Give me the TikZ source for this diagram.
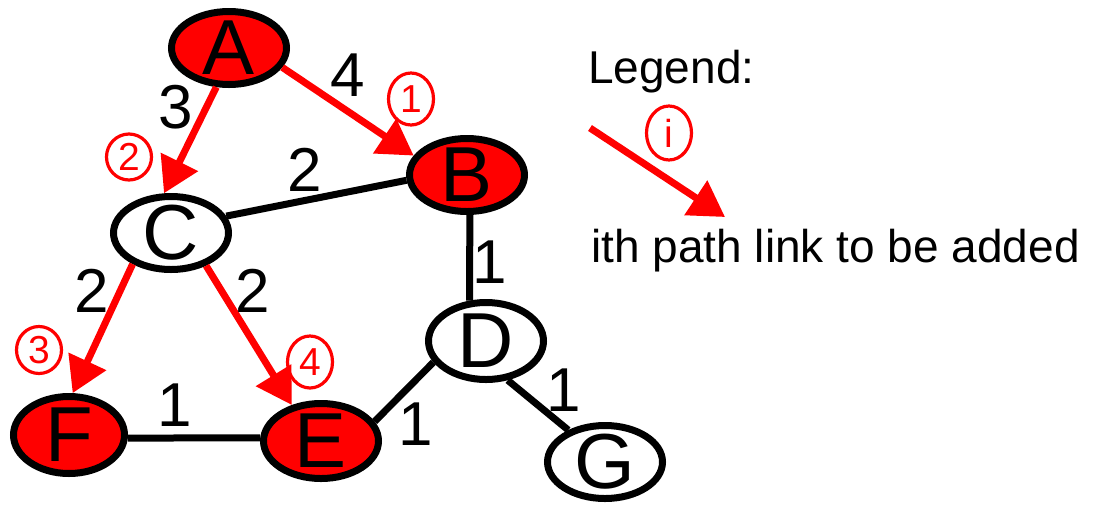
\documentclass[tikz,border=0pt]{standalone}
\usepackage{fontspec}
\setmainfont{Liberation Sans}
\usetikzlibrary{shapes.geometric,arrows.meta}
\begin{document}
\begin{tikzpicture}[x=1pt,y=-1pt,
  gnode/.style={ellipse,draw=black,line width=7pt,inner sep=-6pt,
    minimum width=115pt,minimum height=73pt,
    font=\fontsize{78}{80}\selectfont},
  visited/.style={gnode,fill=red},
  plain/.style={gnode,fill=white},
  wlabel/.style={inner sep=0pt,font=\fontsize{62}{66}\selectfont},
  order/.style={ellipse,draw=red,text=red,line width=3.2pt,inner sep=-6pt,
    minimum width=45pt,minimum height=50pt,
    font=\fontsize{39}{42}\selectfont},
  plainedge/.style={draw=black,line width=7pt},
  pathedge/.style={draw=red,line width=7pt,-{Triangle[length=35pt,width=40pt]}},
  legtext/.style={inner sep=0pt,anchor=base west,font=\fontsize{46}{50}\selectfont}]
\useasboundingbox (0,0) rectangle (1110,504);
% nodes
\node[visited] (A) at (229,48) {A};
\node[visited] (B) at (467,175) {B};
\node[plain] (C) at (171,233) {C};
\node[plain,minimum height=77pt] (D) at (486,341) {D};
\node[visited,minimum height=75pt] (E) at (321,441) {E};
\node[visited,minimum height=77pt,minimum width=111pt] (F) at (69,435) {F};
\node[plain] (G) at (605,462) {G};
% black edges
\draw[plainedge] (C.17) -- (B.185);
\draw[plainedge] (B.-86) -- (D.112);
\draw[plainedge] (D.-158) -- (E.20);
\draw[plainedge] (D.-61) -- (G.139);
\draw[plainedge] (F.-3) -- (E.177);
% red path edges
\draw[pathedge] (A.-20) -- (B.160);
\draw[pathedge] (A.-108) -- (C.100);
\draw[pathedge] (C.-141) -- (F.85);
\draw[pathedge] (C.-43) -- (E.129);
% weights
\node[wlabel] (w1) at (176,107) {3};
\node[wlabel] (w2) at (348,75) {4};
\node[wlabel] (w3) at (305,170) {2};
\node[wlabel] (w4) at (92,291) {2};
\node[wlabel] (w5) at (253,291) {2};
\node[wlabel] (w6) at (175,405) {1};
\node[wlabel] (w7) at (490,262) {1};
\node[wlabel] (w8) at (416,424) {1};
\node[wlabel] (w9) at (564,390) {1};
% order labels
\node[order,minimum height=52pt] (o1) at (411,99) {1};
\node[order,minimum height=46pt] (o2) at (129,157) {2};
\node[order,minimum height=47pt] (o3) at (39,350) {3};
\node[order,minimum height=52pt] (o4) at (310,362) {4};
% legend
\node[legtext] (leg) at (588,83) {Legend:};
\coordinate (ls) at (590,128);
\coordinate (le) at (725,217);
\draw[pathedge] (ls) -- (le);
\node[order,minimum height=54pt] (oi) at (669,133) {i};
\node[legtext] (legdesc) at (591,262) {ith path link to be added};
\end{tikzpicture}
\end{document}
